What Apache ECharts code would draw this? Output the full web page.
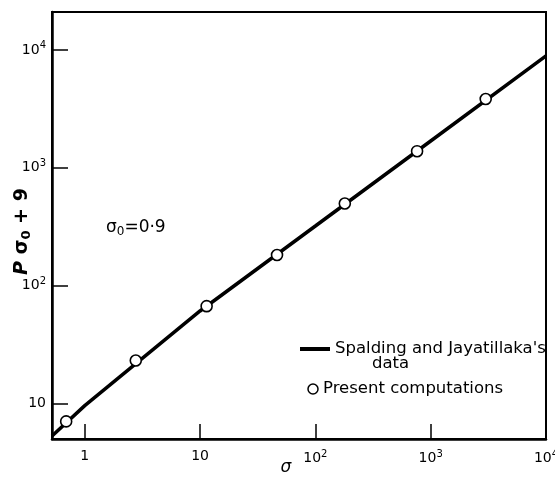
<!DOCTYPE html>
<html>
<head>
<meta charset="utf-8">
<script src="https://cdn.jsdelivr.net/npm/echarts@6/dist/echarts.min.js"></script>
<style>
  html, body { margin: 0; padding: 0; background: #fff; }
  #chart { width: 555px; height: 477px; }
</style>
</head>
<body>
<div id="chart"></div>
<script>
// Spalding and Jayatillaka's curve (sigma, P_sigma0 + 9)
const lineSigma = [0.52, 1, 10, 100, 1000, 10000];
const lineP = [5.3, 9.6, 61, 321, 1690, 8900];

// Present computations
const compSigma = [0.69, 2.77, 11.4, 46.5, 180, 762, 3000];
const compP = [7.05, 23.2, 67, 182, 498, 1384, 3836];

const FONT = 'DejaVu Sans';

function powLabel(v, plainOnes) {
  const e = Math.log10(v);
  const r = Math.round(e);
  if (Math.abs(e - r) > 1e-6) return '';
  if (plainOnes.indexOf(r) >= 0) return String(Math.round(v));
  return '10{sup|' + r + '}';
}

const richSup = {
  sup: { fontSize: 10, fontFamily: FONT, color: '#000', padding: [0, 0, 9, 0] }
};

const chart = echarts.init(document.getElementById('chart'));
chart.setOption({
  backgroundColor: '#fff',
  animation: false,
  grid: {
    left: 52, right: 9, top: 12, bottom: 38,
    containLabel: false, outerBoundsMode: 'none',
    show: true, borderColor: '#000', borderWidth: 2
  },
  xAxis: {
    type: 'log', logBase: 10, min: 0.52, max: 10000,
    name: 'σ', nameLocation: 'middle', nameGap: 20, nameMoveOverlap: false,
    nameTextStyle: {
      fontFamily: FONT, fontSize: 17, color: '#000', fontStyle: 'italic',
      verticalAlign: 'top', padding: [0, 26, 0, 0]
    },
    axisLine: { show: true, onZero: false, lineStyle: { color: '#000', width: 2.5 } },
    axisTick: { show: true, inside: true, length: 15, lineStyle: { color: '#000', width: 1.5 } },
    minorTick: { show: false },
    splitLine: { show: false },
    axisLabel: {
      margin: 10, color: '#000', fontFamily: FONT, fontSize: 14,
      formatter: v => powLabel(v, [0, 1]),
      rich: Object.assign({}, richSup),
      showMinLabel: true, showMaxLabel: true
    }
  },
  yAxis: {
    type: 'log', logBase: 10, min: 5, max: 21000,
    name: '{i|P} σ{sub|0} + 9', nameLocation: 'middle', nameGap: 19, nameRotate: 90,
    nameMoveOverlap: false,
    nameTextStyle: {
      fontFamily: FONT, fontSize: 19, color: '#000', fontWeight: 'bold',
      padding: [0, 12, 0, 0],
      rich: {
        i: { fontFamily: FONT, fontSize: 19, fontStyle: 'italic', fontWeight: 'bold', color: '#000' },
        sub: { fontFamily: FONT, fontSize: 13, fontWeight: 'bold', color: '#000', padding: [9, 0, 0, 0] }
      }
    },
    axisLine: { show: true, onZero: false, lineStyle: { color: '#000', width: 2.5 } },
    axisTick: { show: true, inside: true, length: 16, lineStyle: { color: '#000', width: 1.5 } },
    minorTick: { show: false },
    splitLine: { show: false },
    axisLabel: {
      margin: 6, color: '#000', fontFamily: FONT, fontSize: 14,
      formatter: v => powLabel(v, [1]),
      rich: Object.assign({}, richSup)
    }
  },
  series: [
    {
      name: "Spalding and Jayatillaka's data",
      type: 'line',
      data: lineSigma.map((s, i) => [s, lineP[i]]),
      showSymbol: false,
      lineStyle: { color: '#000', width: 3.5 },
      z: 2
    },
    {
      name: 'Present computations',
      type: 'scatter',
      data: compSigma.map((s, i) => [s, compP[i]]),
      symbol: 'circle',
      symbolSize: 11,
      itemStyle: { color: '#fff', borderColor: '#000', borderWidth: 1.6, opacity: 1 },
      z: 3
    }
  ],
  graphic: [
    {
      type: 'text', left: 106, top: 219,
      style: {
        text: 'σ{sub|0}=0·9',
        fontFamily: FONT, fontSize: 17, fill: '#000',
        rich: { sub: { fontFamily: FONT, fontSize: 12, fill: '#000', padding: [9, 0, 0, 0] } }
      }
    },
    // legend: line sample + text
    { type: 'line', shape: { x1: 300, y1: 349, x2: 330, y2: 349 }, style: { stroke: '#000', lineWidth: 4 } },
    { type: 'text', left: 335, top: 340, style: { text: "Spalding and Jayatillaka's", fontFamily: FONT, fontSize: 16.5, fill: '#000' } },
    { type: 'text', left: 372, top: 355, style: { text: 'data', fontFamily: FONT, fontSize: 16.5, fill: '#000' } },
    { type: 'circle', shape: { cx: 313, cy: 389, r: 5 }, style: { fill: '#fff', stroke: '#000', lineWidth: 1.5 } },
    { type: 'text', left: 323, top: 380, style: { text: 'Present computations', fontFamily: FONT, fontSize: 16.5, fill: '#000' } }
  ]
});
</script>
</body>
</html>
